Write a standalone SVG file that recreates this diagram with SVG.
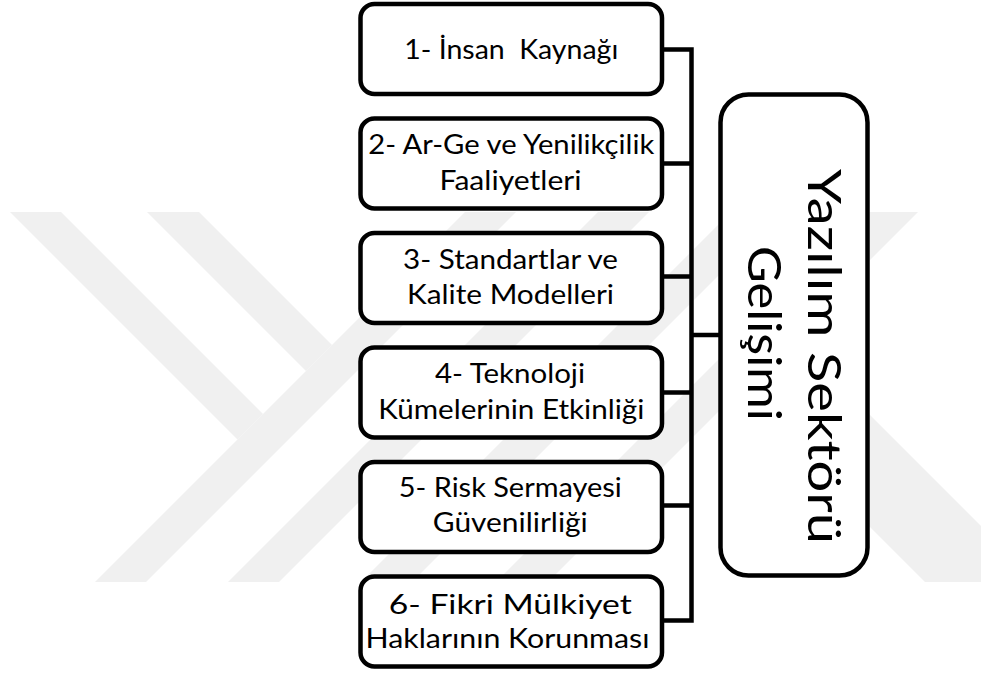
<svg xmlns="http://www.w3.org/2000/svg" width="981" height="675" viewBox="0 0 981 675">
  <style>
    .wm { fill: #f0f0f0; stroke: none; }
    .box { fill: #ffffff; stroke: #000000; stroke-width: 4.5; }
    .conn { fill: none; stroke: #000000; stroke-width: 4.5; stroke-linecap: square; }
    .lbl { font-family: "Lato", "Liberation Sans", sans-serif; font-size: 26px; fill: #000000; text-anchor: middle; }
    .big { font-family: "Lato", "Liberation Sans", sans-serif; font-size: 46px; fill: #000000; }
  </style>
  <rect x="0" y="0" width="981" height="675" fill="#ffffff"/>
  <g id="watermark">
    <polygon class="wm" points="10,212 61,212 263,414 237.5,439.5"/>
    <polygon class="wm" points="147,212 199,212 332,345 306,371"/>
    <polygon class="wm" points="465,212 516,212 146,582 95,582"/>
    <polygon class="wm" points="598,212 649,212 279,582 228,582"/>
    <polygon class="wm" points="731,212 782,212 412,582 361,582"/>
    <polygon class="wm" points="866,212 918,212 548,582 496,582"/>
    <polygon class="wm" points="792,337 981,526 981,582 925,582 736,393"/>
  </g>
  <g id="connectors">
    <path class="conn" d="M662,49.5 H691.5 M662,163.5 H691.5 M662,276.5 H691.5 M662,392.5 H691.5 M662,505.5 H691.5 M662,620.5 H691.5 M691.5,49.5 V620.5 M691.5,335 H720.5"/>
  </g>
  <g id="node-1">
    <rect class="box" x="360.5" y="4" width="301.5" height="90" rx="14"/>
    <text class="lbl" x="511.25" y="58.5" textLength="214" lengthAdjust="spacingAndGlyphs" xml:space="preserve">1- İnsan  Kaynağı</text>
  </g>
  <g id="node-2">
    <rect class="box" x="360.5" y="118.5" width="301.5" height="90" rx="14"/>
    <text class="lbl" x="511.25" y="153.5" textLength="286" lengthAdjust="spacingAndGlyphs">2- Ar-Ge ve Yenilikçilik</text>
    <text class="lbl" x="510.5" y="190" textLength="142" lengthAdjust="spacingAndGlyphs">Faaliyetleri</text>
  </g>
  <g id="node-3">
    <rect class="box" x="360.5" y="233" width="301.5" height="90" rx="14"/>
    <text class="lbl" x="510.5" y="268.5" textLength="215" lengthAdjust="spacingAndGlyphs">3- Standartlar ve</text>
    <text class="lbl" x="510.5" y="303.5" textLength="207" lengthAdjust="spacingAndGlyphs">Kalite Modelleri</text>
  </g>
  <g id="node-4">
    <rect class="box" x="360.5" y="347.5" width="301.5" height="90" rx="14"/>
    <text class="lbl" x="510" y="383" textLength="150" lengthAdjust="spacingAndGlyphs">4- Teknoloji</text>
    <text class="lbl" x="511.3" y="418.5" textLength="266" lengthAdjust="spacingAndGlyphs">Kümelerinin Etkinliği</text>
  </g>
  <g id="node-5">
    <rect class="box" x="360.5" y="462" width="301.5" height="90" rx="14"/>
    <text class="lbl" x="510.3" y="497" textLength="223" lengthAdjust="spacingAndGlyphs">5- Risk Sermayesi</text>
    <text class="lbl" x="510.3" y="532" textLength="155" lengthAdjust="spacingAndGlyphs">Güvenilirliği</text>
  </g>
  <g id="node-6">
    <rect class="box" x="360.5" y="576.5" width="301.5" height="90" rx="14"/>
    <text class="lbl" x="510.3" y="613.5" textLength="243" lengthAdjust="spacingAndGlyphs">6- Fikri Mülkiyet</text>
    <text class="lbl" x="507.5" y="647.5" textLength="284" lengthAdjust="spacingAndGlyphs">Haklarının Korunması</text>
  </g>
  <g id="node-center">
    <rect class="box" x="720.5" y="94.5" width="147" height="481" rx="28"/>
    <text class="big" transform="translate(808,169) rotate(90)" textLength="375" lengthAdjust="spacingAndGlyphs">Yazılım Sektörü</text>
    <text class="big" transform="translate(748,246) rotate(90)" textLength="175" lengthAdjust="spacingAndGlyphs">Gelişimi</text>
  </g>
</svg>
